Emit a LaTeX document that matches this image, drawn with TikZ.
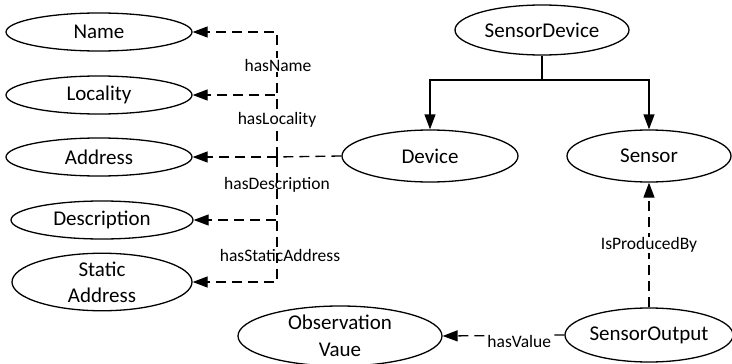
\documentclass[tikz,border=0pt]{standalone}
\usepackage{fontspec}
\setmainfont{Carlito}
\usetikzlibrary{shapes.geometric,arrows.meta}

\tikzset{
  concept/.style={ellipse, draw, line width=1.3pt, inner sep=0pt, align=center,
    font=\fontsize{21}{27}\selectfont},
  rel/.style={line width=1.3pt, -{Triangle[length=15pt,width=11pt]}},
  dep/.style={line width=1.3pt, dash pattern=on 10pt off 6pt},
  lbl/.style={font=\fontsize{17.5}{19}\selectfont, inner sep=1pt},
  lblcut/.style={lbl, fill=white},
}

\begin{document}
\begin{tikzpicture}[x=1pt, y=-1pt]
  \useasboundingbox (0,0) rectangle (732,364);

  % property values on the left
  \node[concept, minimum width=186pt, minimum height=38pt] (name) at (99,32) {Name};
  \node[concept, minimum width=186pt, minimum height=38pt] (loc)  at (99,95) {Locality};
  \node[concept, minimum width=186pt, minimum height=38pt] (addr) at (99,157) {Address};
  \node[concept, minimum width=182pt, minimum height=38pt] (desc) at (102,220) {Description};
  \node[concept, minimum width=180pt, minimum height=46pt] (stat) at (102,282) {Static\\[-1pt]Address};

  % classes
  \node[concept, minimum width=174pt, minimum height=50pt] (sd)   at (542,30) {SensorDevice};
  \node[concept, minimum width=176pt, minimum height=52pt] (dev)  at (430,156) {Device};
  \node[concept, minimum width=164pt, minimum height=52pt] (sen)  at (649,156) {Sensor};
  \node[concept, minimum width=166pt, minimum height=54pt] (out)  at (649,335) {SensorOutput};
  \node[concept, minimum width=204pt, minimum height=60pt] (obs)  at (340,336) {Observation\\Vaue};

  % sub-class hierarchy
  \coordinate (split) at (542,80);
  \draw[line width=1.3pt] (sd.south) -- (split);
  \draw[rel] (split) -| (dev.north);
  \draw[rel] (split) -| (sen.north);

  % properties of Device
  \coordinate (bus) at (277,157);
  \draw[dep] (dev.west) -- (bus);
  \draw[dep, rel] (bus) |- (name.east);
  \draw[dep, rel] (bus) |- (loc.east);
  \draw[dep, rel] (bus) -- (addr.east);
  \draw[dep, rel] (bus) |- (desc.east);
  \draw[dep, rel] (bus) |- (stat.east);
  \node[lblcut] (lname) at (278,65)  {hasName};
  \node[lblcut] (lloc)  at (277,120) {hasLocality};
  \node[lbl]    (ldesc) at (277,185) {hasDescription};
  \node[lbl]    (lstat) at (280,255) {hasStaticAddress};

  % properties of SensorOutput
  \draw[dep, rel] (out.north) -- (sen.south)
    node[lblcut, pos=0.5] (lprod) {IsProducedBy};
  \draw[dep, rel] (out.west) -- (obs.east)
    node[lblcut, pos=0.37, yshift=-6pt] (lval) {hasValue};
\end{tikzpicture}
\end{document}
